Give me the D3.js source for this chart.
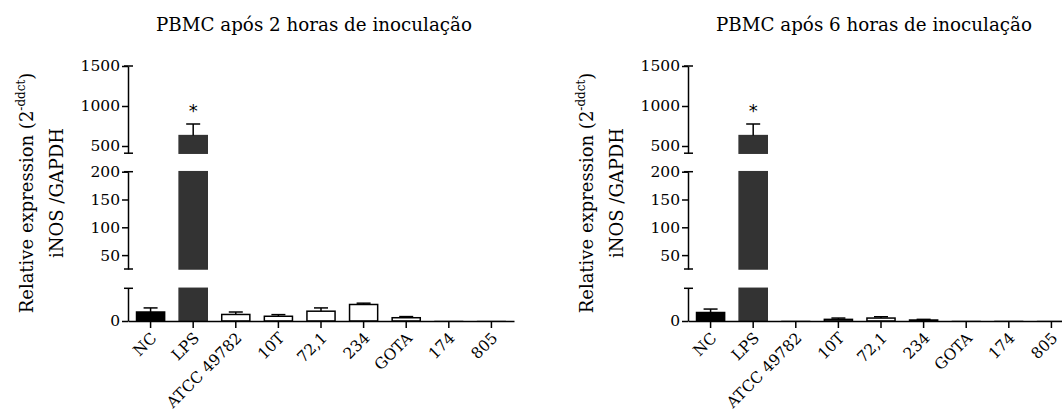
<!DOCTYPE html>
<html>
<head>
<meta charset="utf-8">
<script src="https://cdn.jsdelivr.net/npm/d3@7"></script>
<style>
  body { margin: 0; background: #fff; }
  text { font-family: "DejaVu Serif", serif; fill: #000; }
</style>
</head>
<body>
<div id="chart"></div>
<script>
// data
let categories = ["NC", "LPS", "ATCC 49782", "10T", "72,1", "234", "GOTA", "174", "805"];
let fills = ["#000000", "#333333", "#ffffff", "#ffffff", "#ffffff", "#ffffff", "#ffffff", "#ffffff", "#ffffff"];
let titles = ["PBMC após 2 horas de inoculação", "PBMC após 6 horas de inoculação"];
let values2h = [5.5, 630, 4.0, 2.9, 6.0, 10.1, 2.0, 0.2, 0.1];
let errors2h = [2.5, 145, 1.5, 1.0, 2.0, 0.8, 0.7, 0.1, 0.05];
let values6h = [5.2, 630, 0.3, 1.0, 1.8, 0.6, 0.2, 0.3, 0.1];
let errors6h = [2.1, 145, 0.1, 0.8, 0.8, 0.4, 0.05, 0.1, 0.05];
let panels = [
  { title: titles[0], values: values2h, errors: errors2h },
  { title: titles[1], values: values6h, errors: errors6h }
];
// broken y axis: three segments
let segDomains = [[0, 20], [25, 200], [410, 1500]];
let segRanges = [[321, 288.3], [269, 171.7], [153.2, 66]];
let segTicks = [[0], [50, 100, 150, 200], [500, 1000, 1500]];

let width = 1062, height = 419;
let svg = d3.select("#chart").append("svg")
    .attr("width", width).attr("height", height);

let segScales = segDomains.map((d, i) => d3.scaleLinear().domain(d).range(segRanges[i]));

panels.forEach((p, pi) => {
  let g = svg.append("g").attr("transform", "translate(" + (pi * 560) + ",0)");
  let x = d3.scaleBand().domain(categories).range([128, 514]).paddingInner(0.34).paddingOuter(0.2);

  // title
  g.append("text").attr("x", 314).attr("y", 31).attr("text-anchor", "middle")
    .style("font-size", "18.3px").text(p.title);

  // y label
  let yl = g.append("text").attr("transform", "translate(33,193) rotate(-90)")
    .attr("text-anchor", "middle").style("font-size", "18px");
  yl.append("tspan").text("Relative expression (2");
  yl.append("tspan").attr("dy", -8).style("font-size", "12px").text("-ddct");
  yl.append("tspan").attr("dy", 8).text(")");
  g.append("text").attr("transform", "translate(63,193) rotate(-90)")
    .attr("text-anchor", "middle").style("font-size", "18px").text("iNOS /GAPDH");

  // bars, clipped per segment
  segScales.forEach((y, si) => {
    let [lo, hi] = segDomains[si];
    categories.forEach((c, i) => {
      let v = p.values[i];
      if (v <= lo) return;
      let top = y(Math.min(v, hi)), bot = y(lo);
      let dark = fills[i] !== "#ffffff";
      let thin = v < 0.5;
      g.append("rect")
        .attr("x", x(c)).attr("width", x.bandwidth())
        .attr("y", top).attr("height", Math.max(bot - top, 0.5))
        .attr("fill", thin ? "#bbbbbb" : fills[i])
        .attr("stroke", thin ? "#bbbbbb" : (dark ? fills[i] : "#000"))
        .attr("stroke-width", thin ? 1 : 1.5);
    });
  });

  // error bars (upper only)
  categories.forEach((c, i) => {
    let v = p.values[i], e = v + p.errors[i];
    let si = segDomains.findIndex(d => e >= d[0] && e <= d[1]);
    if (si < 0 || p.values[i] < 0.5) return;
    let y = segScales[si];
    let cx = x(c) + x.bandwidth() / 2;
    let yb = y(Math.max(v, segDomains[si][0]));
    g.append("line").attr("x1", cx).attr("x2", cx).attr("y1", yb).attr("y2", y(e))
      .attr("stroke", "#000").attr("stroke-width", 1.5);
    g.append("line").attr("x1", cx - 7).attr("x2", cx + 7).attr("y1", y(e)).attr("y2", y(e))
      .attr("stroke", "#000").attr("stroke-width", 1.5);
  });

  // significance star on LPS
  g.append("text").attr("x", x("LPS") + x.bandwidth() / 2).attr("y", 117)
    .attr("text-anchor", "middle").style("font-size", "18px").style("font-family", "DejaVu Sans")
    .text("*");

  // y axis segments
  segScales.forEach((y, si) => {
    let ax = g.append("g").attr("transform", "translate(128,0)")
      .call(d3.axisLeft(y).tickValues(segTicks[si]).tickFormat(d3.format("d"))
        .tickSize(6).tickPadding(2).tickSizeOuter(0));
    ax.select(".domain").attr("stroke-width", 1.5);
    ax.selectAll(".tick line").attr("stroke-width", 1.5);
    ax.selectAll(".tick text").style("font-size", "15.5px")
      .style("font-family", "\"DejaVu Serif\", serif");
    // break caps
    let r = y.range();
    r.forEach((ry, k) => {
      if (si === 0 && k === 0) return;
      g.append("line").attr("x1", 124).attr("x2", 133).attr("y1", ry).attr("y2", ry)
        .attr("stroke", "#000").attr("stroke-width", 1.5);
    });
  });

  // x axis
  let xa = g.append("g").attr("transform", "translate(0,321)")
    .call(d3.axisBottom(x).tickSize(7).tickSizeOuter(0).tickFormat(""));
  xa.select(".domain").attr("stroke-width", 1.5);
  xa.selectAll(".tick line").attr("stroke-width", 1.5);
  categories.forEach(c => {
    let cx = x(c) + x.bandwidth() / 2;
    g.append("text").attr("transform", "translate(" + (cx + 7) + ",339) rotate(-45)")
      .attr("text-anchor", "end").style("font-size", "15.5px").text(c);
  });
});
</script>
</body>
</html>
